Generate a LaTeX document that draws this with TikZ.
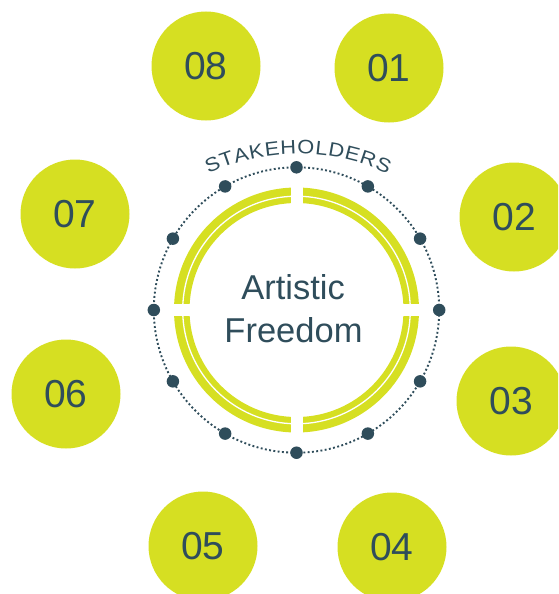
\documentclass[tikz,border=0pt]{standalone}
\usepackage{fontspec}
\setmainfont{Liberation Sans}
\newfontfamily\stakefont[FakeStretch=1.12]{Liberation Sans}
\usetikzlibrary{decorations.text,calc}
\definecolor{lime}{HTML}{D6DF22}
\definecolor{slate}{HTML}{2F4D5B}
\tikzset{
  numcirc/.style={circle, fill=lime, minimum size=109pt, inner sep=0pt, text=slate,
    font=\fontsize{39}{39}\selectfont},
  bigdot/.style={circle, fill=slate, minimum size=12.5pt, inner sep=0pt},
  centertext/.style={text=slate, font=\fontsize{34.5}{34.5}\selectfont, inner sep=0pt, anchor=base}
}
\begin{document}
\begin{tikzpicture}[x=1pt,y=1pt]
\useasboundingbox (0,0) rectangle (558,-594);
\clip (0,0) rectangle (558,-594);
\coordinate (c) at (296.5,-310);
% number circles
\node[numcirc] (n08) at (206,-66) {08};
\node[numcirc] (n01) at (389,-68) {01};
\node[numcirc] (n07) at (75,-214) {07};
\node[numcirc] (n02) at (514,-217) {02};
\node[numcirc] (n06) at (66,-394) {06};
\node[numcirc] (n03) at (511,-401) {03};
\node[numcirc] (n05) at (203,-546) {05};
\node[numcirc] (n04) at (392,-547) {04};
% yellow ring
\fill[lime, even odd rule] (c) circle (122.5) (c) circle (107);
\draw[white, line width=1.3pt] (c) circle (113.8);
\fill[white] ($(c)+(-6,-130)$) rectangle ($(c)+(6,130)$);
\fill[white] ($(c)+(-130,-6)$) rectangle ($(c)+(130,6)$);
% dotted circle
\draw[slate, line width=1.9pt, dash pattern=on 1.9pt off 2.4pt] (c) circle (142.7);
\foreach \a [count=\i] in {0,30,...,330}{
  \node[bigdot] (d\i) at ($(c)+(\a:142.7)$) {};
}
% curved label
\path[decorate, decoration={text along path, text align={fit to path}, text color=slate,
  text={|\stakefont\fontsize{19.5}{19.5}\selectfont|STAKEHOLDERS}}]
  (208.4,-173.9) arc[start angle=115, end angle=65, radius=212];
% center text
\node[centertext] (art) at (293,-299) {Artistic};
\node[centertext] (free) at (293.5,-342) {Freedom};
\end{tikzpicture}
\end{document}
